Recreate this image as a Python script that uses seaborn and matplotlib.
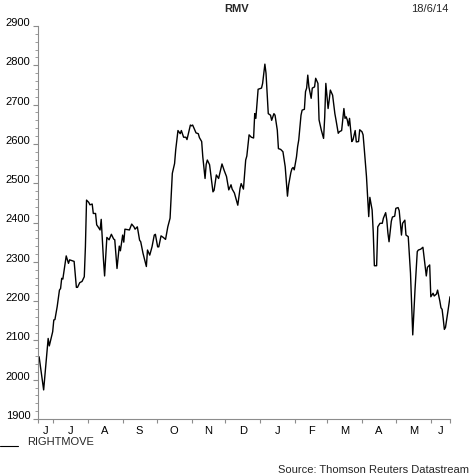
import numpy as np
import pandas as pd
import matplotlib
matplotlib.use("Agg")
import matplotlib.pyplot as plt
import matplotlib.dates as mdates
from matplotlib.lines import Line2D
from matplotlib.ticker import MultipleLocator
import seaborn as sns

# ---------------- data ----------------
start_date = "2013-06-18"
end_date = "2014-06-18"
day_offset = [
    0, 1, 3, 5, 9, 10, 13, 14, 15, 17, 19, 20, 21, 22, 25, 27, 28, 30, 32, 34,
    35, 37, 39, 41, 42, 43, 45, 46, 48, 49, 51, 52, 53, 55, 56, 58, 59, 61, 63, 65,
    67, 68, 70, 72, 73, 75, 76, 77, 81, 83, 85, 86, 88, 90, 91, 93, 96, 97, 99, 101,
    103, 104, 106, 107, 109, 111, 113, 115, 117, 119, 121, 122, 124, 126, 127, 129, 131, 132, 135, 136,
    137, 140, 142, 143, 145, 146, 148, 149, 150, 152, 155, 156, 158, 160, 163, 165, 167, 169, 171, 172,
    174, 177, 179, 180, 182, 184, 185, 187, 189, 191, 192, 193, 195, 198, 199, 201, 202, 204, 206, 207,
    209, 210, 212, 213, 215, 217, 219, 221, 222, 224, 225, 226, 227, 229, 230, 231, 233, 234, 236, 237,
    238, 239, 240, 242, 243, 245, 246, 248, 249, 251, 253, 254, 255, 257, 258, 259, 261, 263, 264, 266,
    267, 269, 271, 272, 273, 274, 275, 276, 278, 279, 281, 282, 284, 285, 287, 288, 289, 291, 293, 294,
    296, 297, 298, 300, 301, 303, 305, 306, 308, 309, 310, 311, 313, 314, 316, 317, 319, 320, 322, 323,
    325, 326, 328, 330, 332, 334, 336, 337, 339, 341, 343, 344, 345, 347, 348, 350, 351, 353, 354, 356,
    357, 358, 359, 360, 361, 363, 365,
]
price = [
    2060, 2058, 2016, 1974, 2105, 2086, 2122, 2152, 2153, 2186, 2228, 2232, 2258, 2256, 2315, 2296, 2305, 2303, 2301, 2235,
    2235, 2247, 2250, 2262, 2338, 2457, 2451, 2445, 2447, 2423, 2423, 2394, 2390, 2381, 2408, 2305, 2264, 2362, 2356, 2370,
    2358, 2356, 2283, 2340, 2328, 2368, 2350, 2383, 2381, 2396, 2389, 2383, 2389, 2355, 2351, 2322, 2288, 2330, 2317, 2338,
    2368, 2370, 2338, 2338, 2366, 2362, 2357, 2389, 2411, 2525, 2550, 2585, 2634, 2626, 2634, 2617, 2617, 2611, 2648, 2646,
    2648, 2628, 2626, 2616, 2606, 2567, 2512, 2548, 2559, 2547, 2478, 2482, 2521, 2512, 2549, 2532, 2517, 2483, 2496, 2485,
    2475, 2444, 2487, 2499, 2485, 2559, 2569, 2623, 2617, 2615, 2677, 2665, 2739, 2742, 2754, 2803, 2780, 2677, 2673, 2660,
    2677, 2673, 2635, 2588, 2586, 2580, 2542, 2467, 2495, 2527, 2537, 2540, 2534, 2567, 2593, 2610, 2673, 2686, 2688, 2733,
    2742, 2775, 2745, 2716, 2742, 2745, 2767, 2754, 2661, 2635, 2614, 2668, 2754, 2690, 2712, 2737, 2724, 2677, 2661, 2627,
    2631, 2634, 2690, 2665, 2669, 2661, 2646, 2665, 2606, 2610, 2634, 2605, 2606, 2636, 2631, 2623, 2589, 2517, 2415, 2464,
    2432, 2375, 2290, 2290, 2389, 2398, 2398, 2411, 2425, 2406, 2373, 2351, 2403, 2414, 2416, 2436, 2438, 2430, 2368, 2398,
    2406, 2368, 2364, 2271, 2114, 2229, 2326, 2330, 2332, 2337, 2288, 2264, 2286, 2292, 2211, 2220, 2213, 2218, 2228, 2200,
    2183, 2179, 2155, 2128, 2133, 2171, 2211,
]
month_labels = ["J", "J", "A", "S", "O", "N", "D", "J", "F", "M", "A", "M", "J"]
y_ticks = [1900, 2000, 2100, 2200, 2300, 2400, 2500, 2600, 2700, 2800, 2900]
chart_title = "RMV"
date_stamp = "18/6/14"
series_name = "RIGHTMOVE"
source_note = "Source: Thomson Reuters Datastream"

# ---------------- style ----------------
sns.set_theme(style="white")
plt.rcParams["font.family"] = ["Liberation Sans", "DejaVu Sans"]
AXC = "#8c8c8c"
FS = 8

dates = pd.Timestamp(start_date) + pd.to_timedelta(day_offset, unit="D")
df = pd.DataFrame({"date": dates, "price": price})

W, H = 475, 476
fig = plt.figure(figsize=(W / 100, H / 100), dpi=100)
ax = fig.add_axes([38 / W, 1 - 419 / H, (450 - 38) / W, (419 - 26) / H])

sns.lineplot(data=df, x="date", y="price", ax=ax, color="black", linewidth=1.0)

t0, t1 = pd.Timestamp(start_date), pd.Timestamp(end_date)
ax.set_xlim(mdates.date2num(t0.to_pydatetime()), mdates.date2num(t1.to_pydatetime()))
ax.set_ylim(y_ticks[0], y_ticks[-1])

# x ticks: boundaries (major, unlabeled) and month centres (minor, labeled)
month_starts = list(pd.date_range("2013-07-01", "2014-06-01", freq="MS"))
bounds = [t0] + month_starts + [t1]
bnum = [mdates.date2num(b.to_pydatetime()) for b in bounds]
ax.set_xticks(bnum)
ax.set_xticklabels([""] * len(bnum))
mids = [(a + b) / 2 for a, b in zip(bnum[:-1], bnum[1:])]
ax.set_xticks(mids, minor=True)
ax.set_xticklabels(month_labels, minor=True)
ax.tick_params(axis="x", which="major", length=3, width=0.8, color=AXC, direction="out", bottom=True)
ax.tick_params(axis="x", which="minor", length=0, labelsize=FS, pad=5, labelcolor="black", bottom=True)

# y ticks
ax.set_yticks(y_ticks)
ax.set_yticklabels([str(v) for v in y_ticks], va="baseline")
ax.yaxis.set_minor_locator(MultipleLocator(20))
ax.tick_params(axis="y", which="major", length=3.5, width=0.8, color=AXC, direction="out",
               labelsize=FS, pad=2, left=True, labelcolor="black")
ax.tick_params(axis="y", which="minor", length=2, width=0.6, color=AXC, direction="out", left=True)

for s in ["top", "right"]:
    ax.spines[s].set_visible(False)
for s in ["left", "bottom"]:
    ax.spines[s].set_color(AXC)
    ax.spines[s].set_linewidth(0.8)
ax.set_xlabel("")
ax.set_ylabel("")
ax.grid(False)

# header / footer texts
fig.text(237 / W, 1 - 9 / H, chart_title, ha="center", va="center", fontsize=FS, fontweight="bold")
fig.text(430 / W, 1 - 9 / H, date_stamp, ha="center", va="center", fontsize=FS)
fig.add_artist(Line2D([0, 18 / W], [1 - 446 / H, 1 - 446 / H], color="black", linewidth=0.8,
                      transform=fig.transFigure))
fig.text(27 / W, 1 - 445 / H, series_name, ha="left", va="baseline", fontsize=FS)
fig.text(469 / W, 1 - 473 / H, source_note, ha="right", va="baseline", fontsize=FS)

fig.savefig("out.png", dpi=100)
